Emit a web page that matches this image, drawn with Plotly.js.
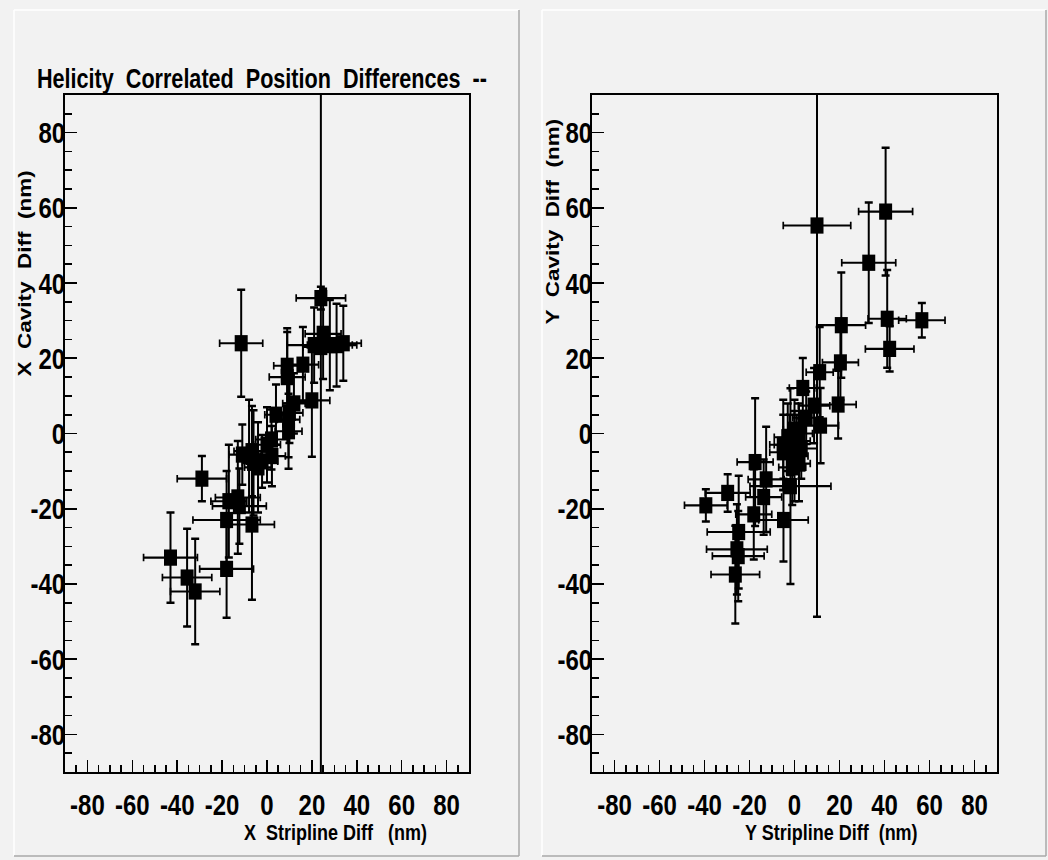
<!DOCTYPE html>
<html>
<head>
<meta charset="utf-8">
<script src="https://cdn.plot.ly/plotly-3.0.1.min.js"></script>
<style>
html,body{margin:0;padding:0;background:#f2f2f2;overflow:hidden;width:1048px;height:860px;}
#chart{width:1048px;height:688px;transform:scaleY(1.25);transform-origin:0 0;}
</style>
</head>
<body>
<div id="chart"></div>
<script>
// ---- data ----
const tickVals = [-80, -60, -40, -20, 0, 20, 40, 60, 80];
const tickText = ["-80", "-60", "-40", "-20", "0", "20", "40", "60", "80"];

// Left panel: X stripline vs X cavity (nm)
const leftX  = [-11.5, 24, 25, 21, 28, 34, 9, 9, 16, 20, 12, 10, 9.6, 9.6, 2, -6.7, -11, -6, 2.2, -2.2, -29, -17, -13, -12.3, -18, -6.7, -43, -35.6, -32, -18, 24, 4, 0, -4, -8, 31];
const leftY  = [24, 36, 26.5, 23.5, 23.5, 24, 18, 15, 18.3, 8.8, 8, 5.5, 3.7, 0.6, -1.6, -4.7, -5.6, -7.8, -6, -7.4, -12, -18, -17, -19.3, -23, -24.2, -33, -38.3, -42, -36, 23, 5, -3, -9, -6, 23.5];
const leftEX = [9.6, 11, 8, 12, 10, 8, 6, 8, 7, 8, 5, 6, 5, 6, 7, 8, 6, 5, 6, 7, 11, 8, 10, 12, 15, 10, 12, 11, 11, 12, 8, 5, 6, 6, 5, 9];
const leftEY = [14.2, 3, 12, 10, 12, 10, 10, 12, 10, 15, 8, 8, 10, 10, 8, 12, 8, 14, 8, 7, 6, 15, 15, 10, 13, 20, 12, 13, 14, 13, 130, 8, 10, 12, 15, 11];

// Right panel: Y stripline vs Y cavity (nm)
const rightX  = [10, 40.5, 33, 41.2, 56.6, 42.3, 20.8, 20.4, 19.4, 11.2, 3.7, 8.7, 5.2, 11.6, 0, -5, -2, 0, 2, -3, 1, 3, -1, -17.5, -12.6, -1.8, -13.7, -29.7, -39.4, -18.1, -4.9, -24.8, -25.6, -25, -26.3, -5, 2];
const rightY  = [55.3, 59, 45.4, 30.5, 30.1, 22.5, 28.8, 18.9, 7.7, 16.3, 12.1, 7.4, 4.2, 2.1, 1, -5, -3, -6, -8, -1, -2, -4, -9, -7.6, -12.2, -14, -16.9, -15.8, -19.1, -21.5, -23, -26.2, -30.8, -32.6, -37.5, -3, 0];
const rightEX = [15, 12, 12, 8.5, 10.3, 10.8, 10.8, 8, 8, 6, 6, 7, 6, 8, 5, 6, 7, 6, 5, 6, 6, 7, 6, 8, 8, 18, 8, 10, 9.5, 8, 11, 14, 13.5, 11.5, 10.8, 6, 6];
const rightEY = [104, 17, 16, 13, 4.6, 6, 14, 10, 9, 12, 8, 10, 7, 10, 8, 10, 8, 12, 10, 9, 7, 8, 10, 17, 14, 26, 10, 5, 4.3, 12, 11, 15, 12, 12, 13, 12, 8];

// ---- styling ----
// The page is drawn at 860/1.25 px tall and stretched vertically by 1.25,
// which reproduces the tall, narrow look of the original canvas.
const FONT = "'Liberation Sans', Arial, Helvetica, sans-serif";
const S = 1.25;
const W = 1048, H = Math.round(860 / S);
const px = v => v / 1048;
const py = v => 1 - v / 860;

function errTrace(xs, ys, exs, eys, xa, ya) {
  return {
    type: 'scatter', mode: 'markers', x: xs, y: ys, xaxis: xa, yaxis: ya,
    marker: {symbol: 'square', size: 13, color: 'black', line: {width: 0}},
    error_x: {type: 'data', array: exs, visible: true, color: 'black', thickness: 1.7, width: 3},
    error_y: {type: 'data', array: eys, visible: true, color: 'black', thickness: 2, width: 4},
    hoverinfo: 'skip', showlegend: false, cliponaxis: true
  };
}

function xAxis(domain, anchor) {
  return {
    domain: domain, anchor: anchor, range: [-90, 90],
    showline: true, linecolor: 'black', linewidth: 1.7, mirror: true,
    showgrid: false, zeroline: false,
    tickmode: 'array', tickvals: tickVals, ticktext: tickText,
    ticks: 'inside', ticklen: 10, tickwidth: 1.5, tickcolor: 'black',
    minor: {tickmode: 'linear', tick0: 0, dtick: 5, ticks: 'inside', ticklen: 6, tickwidth: 1.5, tickcolor: 'black'},
    tickfont: {family: FONT, size: 24, weight: 700, color: 'black'},
    tickangle: 0, ticklabelstandoff: 4, fixedrange: true
  };
}
function yAxis(domain, anchor) {
  return {
    domain: domain, anchor: anchor, range: [-90, 90],
    showline: true, linecolor: 'black', linewidth: 2, mirror: true,
    showgrid: false, zeroline: false,
    tickmode: 'array', tickvals: tickVals, ticktext: tickText,
    ticks: 'inside', ticklen: 12, tickwidth: 1.3, tickcolor: 'black',
    minor: {tickmode: 'linear', tick0: 0, dtick: 5, ticks: 'inside', ticklen: 7, tickwidth: 1.3, tickcolor: 'black'},
    tickfont: {family: FONT, size: 24, weight: 700, color: 'black'},
    ticklabelstandoff: -7, fixedrange: true
  };
}

const data = [
  errTrace(leftX, leftY, leftEX, leftEY, 'x', 'y'),
  errTrace(rightX, rightY, rightEX, rightEY, 'x2', 'y2')
];

const yDom = [py(772), py(95)];
const layout = {
  width: W, height: H,
  margin: {l: 0, r: 0, t: 0, b: 0},
  paper_bgcolor: '#f2f2f2', plot_bgcolor: '#f2f2f2',
  font: {family: FONT, color: 'black'},
  title: {
    text: 'Helicity  Correlated  Position  Differences  --',
    x: px(37), xanchor: 'left', y: py(79), yanchor: 'middle',
    font: {family: FONT, size: 21.6, weight: 700, color: 'black'}
  },
  xaxis: xAxis([px(65), px(469)], 'y'),
  yaxis: yAxis(yDom, 'x'),
  xaxis2: xAxis([px(592), px(997)], 'y2'),
  yaxis2: yAxis(yDom, 'x2'),
  annotations: [
    {text: 'X  Stripline Diff   (nm)', xref: 'paper', yref: 'paper', x: px(335), y: py(833), xanchor: 'center', yanchor: 'middle', showarrow: false, font: {family: FONT, size: 18, weight: 700, color: 'black'}},
    {text: 'Y Stripline Diff  (nm)', xref: 'paper', yref: 'paper', x: px(831), y: py(833), xanchor: 'center', yanchor: 'middle', showarrow: false, font: {family: FONT, size: 18, weight: 700, color: 'black'}},
    {text: 'X  Cavity  Diff  (nm)', xref: 'paper', yref: 'paper', x: px(25), y: py(274), xanchor: 'center', yanchor: 'middle', textangle: -90, showarrow: false, font: {family: FONT, size: 18, weight: 700, color: 'black'}},
    {text: 'Y  Cavity  Diff  (nm)', xref: 'paper', yref: 'paper', x: px(553), y: py(222), xanchor: 'center', yanchor: 'middle', textangle: -90, showarrow: false, font: {family: FONT, size: 18, weight: 700, color: 'black'}}
  ],
  shapes: [
    // left pad border
    {type: 'line', xref: 'paper', yref: 'paper', x0: px(14), x1: px(519), y0: py(10), y1: py(10), line: {color: '#ffffff', width: 1.2}},
    {type: 'line', xref: 'paper', yref: 'paper', x0: px(14), x1: px(14), y0: py(10), y1: py(856), line: {color: '#ffffff', width: 1.5}},
    {type: 'line', xref: 'paper', yref: 'paper', x0: px(14), x1: px(519), y0: py(856), y1: py(856), line: {color: '#a8a8a8', width: 1.2}},
    {type: 'line', xref: 'paper', yref: 'paper', x0: px(519), x1: px(519), y0: py(10), y1: py(856), line: {color: '#a8a8a8', width: 1.5}},
    // right pad border
    {type: 'line', xref: 'paper', yref: 'paper', x0: px(542), x1: px(1046), y0: py(10), y1: py(10), line: {color: '#ffffff', width: 1.2}},
    {type: 'line', xref: 'paper', yref: 'paper', x0: px(542), x1: px(542), y0: py(10), y1: py(856), line: {color: '#ffffff', width: 1.5}},
    {type: 'line', xref: 'paper', yref: 'paper', x0: px(542), x1: px(1046), y0: py(856), y1: py(856), line: {color: '#a8a8a8', width: 1.2}},
    {type: 'line', xref: 'paper', yref: 'paper', x0: px(1046), x1: px(1046), y0: py(10), y1: py(856), line: {color: '#a8a8a8', width: 1.5}}
  ]
};

Plotly.newPlot('chart', data, layout, {displayModeBar: false, staticPlot: true});
</script>
</body>
</html>
